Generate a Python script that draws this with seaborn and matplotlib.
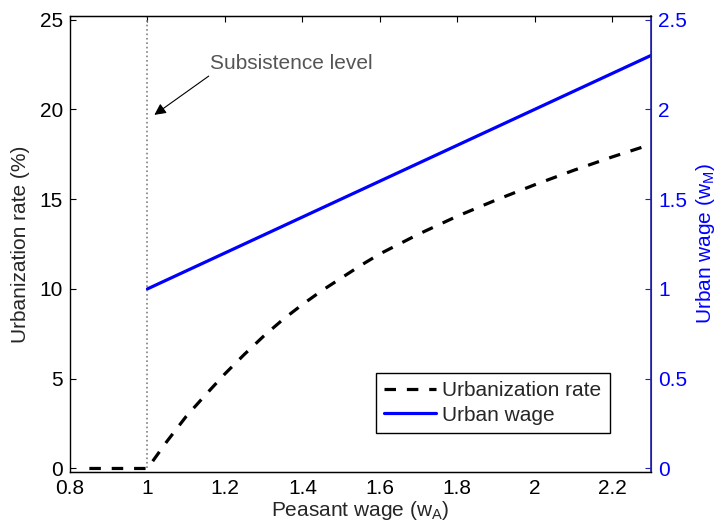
#line plot
#urbanization rate and urban wage vs peasant wage
import pandas as pd
import seaborn as sns
import matplotlib.pyplot as plt
from matplotlib.lines import Line2D

peasant_wage = [0.85, 0.9, 0.95, 1.0, 1.05, 1.1, 1.15, 1.2, 1.25, 1.3, 1.35, 1.4, 1.45, 1.5, 1.55, 1.6,
                1.65, 1.7, 1.8, 1.9, 2.0, 2.1, 2.2, 2.3]
urban_rate = [0, 0, 0, 0, 1.5, 2.9, 4.1, 5.27, 6.35, 7.37, 8.3, 9.13, 9.9, 10.6, 11.3, 11.95,
              12.5, 13.05, 14.05, 14.95, 15.8, 16.6, 17.35, 18.05]

wage_x = [1.0, 1.3, 1.6, 1.9, 2.3]
urban_wage = [1.0, 1.3, 1.6, 1.9, 2.3]

x_ticks = [0.8, 1.0, 1.2, 1.4, 1.6, 1.8, 2.0, 2.2]
x_labels = ["0.8", "1", "1.2", "1.4", "1.6", "1.8", "2", "2.2"]
left_ticks = [0, 5, 10, 15, 20, 25]
right_ticks = [0, 0.5, 1, 1.5, 2, 2.5]
right_labels = ["0", "0.5", "1", "1.5", "2", "2.5"]

df_rate = pd.DataFrame({"w": peasant_wage, "rate": urban_rate})
df_wage = pd.DataFrame({"w": wage_x, "wm": urban_wage})

sns.set_style("white")
plt.rcParams['font.family'] = ['Liberation Sans', 'DejaVu Sans']

fig = plt.figure(figsize=(7.2, 5.31), dpi=100)
ax = fig.add_axes([0.0972, 0.111, 0.807, 0.859])
ax2 = ax.twinx()

ax.axvline(1.0, ymin=0.2 / 25.4, ymax=1, color='gray', linestyle=':', linewidth=1.2)
sns.lineplot(data=df_rate, x="w", y="rate", ax=ax, color='black', linewidth=2.3,
             linestyle=(0, (3.6, 3.4)), legend=False)
sns.lineplot(data=df_wage, x="w", y="wm", ax=ax2, color='blue', linewidth=2.3, legend=False)

ax.set_xlim(0.8, 2.3)
ax.set_ylim(-0.2, 25.2)
ax2.set_ylim(-0.02, 2.52)

ax.set_xticks(x_ticks)
ax.set_xticklabels(x_labels)
ax.set_yticks(left_ticks)
ax2.set_yticks(right_ticks)
ax2.set_yticklabels(right_labels)

fs = 15
ax.tick_params(axis='both', direction='in', length=4.5, labelsize=fs, colors='black', pad=5)
ax.tick_params(axis='x', top=True)
ax.tick_params(axis='y', right=False)
ax2.tick_params(axis='y', direction='in', length=4.5, labelsize=fs, color='#2222aa',
                labelcolor='blue', pad=5)

for side in ['left', 'bottom', 'top']:
    ax.spines[side].set_color('black')
    ax.spines[side].set_linewidth(1.0)
ax2.spines['right'].set_color('#2222aa')
ax2.spines['right'].set_linewidth(1.2)
ax2.spines['left'].set_visible(False)
ax2.spines['top'].set_color('black')
ax2.spines['bottom'].set_color('black')

ax.set_xlabel("Peasant wage (w$_\\mathregular{A}$)", fontsize=fs, labelpad=1)
ax.set_ylabel("Urbanization rate (%)", fontsize=fs, labelpad=7)
ax2.set_ylabel("Urban wage (w$_\\mathregular{M}$)", fontsize=fs, color='blue', labelpad=5)

ax.annotate("", xy=(1.012, 19.6), xytext=(1.164, 21.94),
            arrowprops=dict(arrowstyle='-|>', color='black', lw=0.8, mutation_scale=17))
ax.text(1.161, 22.55, "Subsistence level", color='#555555', fontsize=fs, ha='left', va='center')

handles = [Line2D([], [], color='black', linewidth=2.3, linestyle=(0, (3.6, 3.4))),
           Line2D([], [], color='blue', linewidth=2.3)]
leg = ax2.legend(handles, ["Urbanization rate", "Urban wage"], loc='lower right',
                 bbox_to_anchor=(0.929, 0.0855), fontsize=fs, frameon=True, fancybox=False,
                 framealpha=1, edgecolor='black', handlelength=2.5, handletextpad=0.3,
                 borderpad=0.4, labelspacing=0.28, borderaxespad=0)
leg.get_frame().set_linewidth(1.0)

plt.savefig("out.png", dpi=100)
